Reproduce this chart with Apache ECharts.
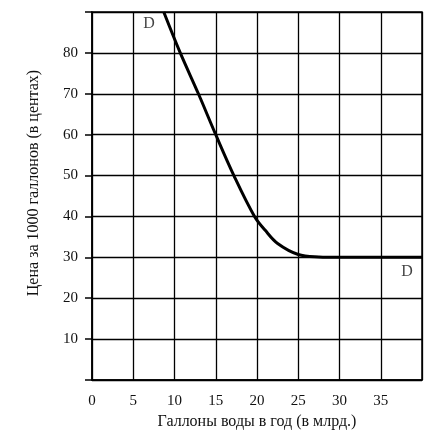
<!DOCTYPE html>
<html>
<head>
<meta charset="utf-8">
<script src="https://cdn.jsdelivr.net/npm/echarts@6/dist/echarts.min.js"></script>
<style>
  html, body { margin: 0; padding: 0; background: #fff; }
  #chart { width: 445px; height: 435px; }
</style>
</head>
<body>
<div id="chart"></div>
<script>
// demand curve D
const demandX = [8.7, 10.7, 12.9, 15.0, 17.2, 19.7, 21, 22.5, 25, 27.5, 30, 35, 40];
const demandY = [90, 80, 70, 60, 50, 40, 36.6, 33.4, 30.7, 30.1, 30, 30, 30];
const xTickLabels = [0, 5, 10, 15, 20, 25, 30, 35];
const yTickLabels = [10, 20, 30, 40, 50, 60, 70, 80];
const curveLabels = [
  { name: 'D', x: 6.9, y: 87.2 },
  { name: 'D', x: 38.2, y: 26.5 }
];
const xTitle = 'Галлоны воды в год (в млрд.)';
const yTitle = 'Цена за 1000 галлонов (в центах)';

const font = '"Liberation Serif", "DejaVu Serif", serif';
const chart = echarts.init(document.getElementById('chart'));

chart.setOption({
  backgroundColor: '#fff',
  animation: false,
  grid: {
    left: 92, right: 23, top: 12, bottom: 55,
    show: true, borderColor: '#000', borderWidth: 1.5
  },
  xAxis: {
    type: 'value',
    min: 0, max: 40, interval: 5,
    name: xTitle,
    nameLocation: 'middle',
    nameGap: 33,
    nameTextStyle: { fontFamily: font, fontSize: 16, color: '#111' },
    axisLine: { lineStyle: { color: '#000', width: 1.5 } },
    axisTick: { show: false },
    axisLabel: {
      margin: 14, fontFamily: font, fontSize: 15, color: '#111',
      formatter: v => xTickLabels.includes(v) ? String(v) : ''
    },
    splitLine: { show: true, lineStyle: { color: '#000', width: 1.3 } }
  },
  yAxis: {
    type: 'value',
    min: 0, max: 90, interval: 10,
    name: yTitle,
    nameLocation: 'middle',
    nameGap: 50,
    nameTextStyle: { fontFamily: font, fontSize: 16, color: '#111', padding: [0, 0, 0, 26] },
    axisLine: { show: true, lineStyle: { color: '#000', width: 1.5 } },
    axisTick: { show: true, inside: false, length: 7, lineStyle: { color: '#000', width: 1.5 } },
    axisLabel: {
      margin: 14, fontFamily: font, fontSize: 15, color: '#111',
      formatter: v => yTickLabels.includes(v) ? String(v) : ''
    },
    splitLine: { show: true, lineStyle: { color: '#000', width: 1.3 } }
  },
  series: [
    {
      type: 'line',
      data: demandX.map((x, i) => [x, demandY[i]]),
      smooth: 0.35,
      symbol: 'none',
      lineStyle: { color: '#000', width: 3 },
      z: 5
    },
    {
      type: 'scatter',
      data: curveLabels.map(d => [d.x, d.y, d.name]),
      symbolSize: 0,
      label: {
        show: true, position: 'inside',
        formatter: p => p.data[2],
        fontFamily: font, fontSize: 16, color: '#111'
      },
      z: 6
    }
  ]
});
</script>
</body>
</html>
